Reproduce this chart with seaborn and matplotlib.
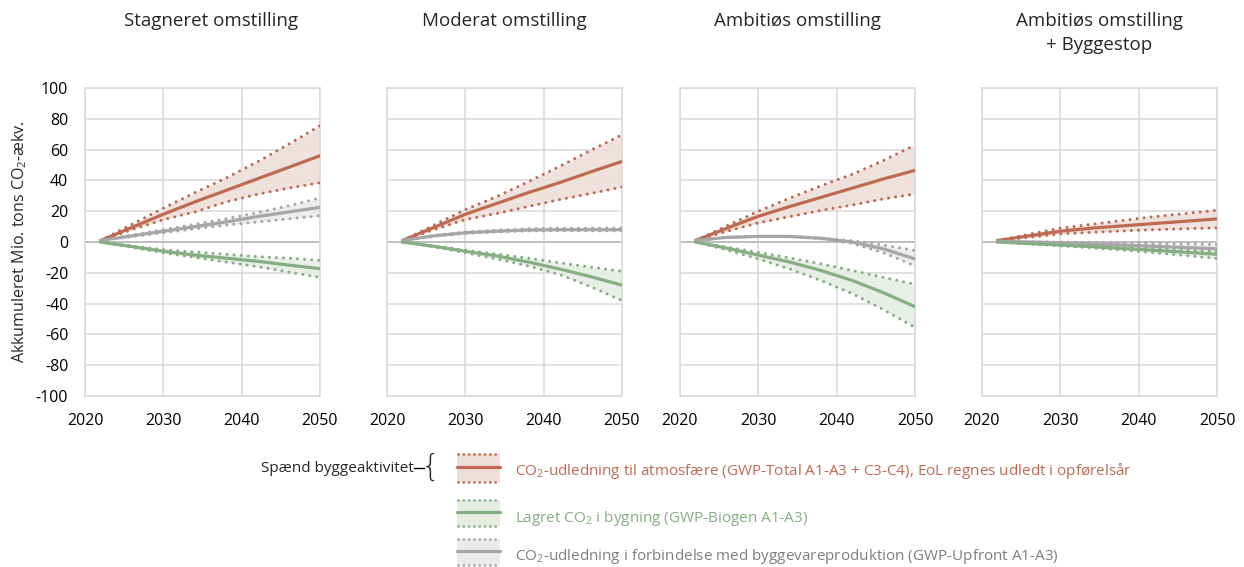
import matplotlib
matplotlib.use("Agg")
import matplotlib.pyplot as plt
import seaborn as sns
import pandas as pd
from matplotlib.patches import Rectangle

# ---- data: cumulative Mio. tons CO2-eq., one row per scenario ----
years = [2022, 2026, 2030, 2034, 2038, 2042, 2046, 2050]
scenarios = ["Stagneret omstilling", "Moderat omstilling",
             "Ambitiøs omstilling", "Ambitiøs omstilling\n+ Byggestop"]

# GWP-Total A1-A3 + C3-C4 (central, high and low construction activity)
total_mid = [[1, 9.5, 18, 26, 33.5, 41, 48.5, 56],
             [1, 9.5, 18, 25, 32, 38.5, 45.5, 52.3],
             [1, 9, 16.7, 23, 29, 35, 41, 46.5],
             [1, 4, 7, 9, 10.5, 12, 13.5, 15]]
total_hi = [[1, 11.5, 22, 32, 41.5, 52, 63.5, 75.5],
            [1, 11, 21, 29.5, 39, 49, 59.5, 69.6],
            [1, 10.5, 20, 28.5, 36.5, 44, 53, 63],
            [1, 5, 9, 11.5, 14, 16.5, 18.5, 20.6]]
total_lo = [[1, 8, 14.5, 19.5, 26, 31, 35, 38.5],
            [1, 8, 14.6, 18.5, 23, 27.5, 31.5, 35.7],
            [1, 7, 12.4, 16.5, 20.5, 24, 28, 31.2],
            [1, 3, 5.3, 6.3, 7.2, 8, 8.6, 9.2]]

# GWP-Biogen A1-A3 (stored CO2)
biogen_mid = [[0, -3, -6, -8.5, -10.5, -12.5, -15, -17.3],
              [0, -2.8, -6, -9, -13, -17.5, -22.5, -28],
              [0, -4, -8.5, -13, -18.5, -25, -33, -42],
              [0, -1, -2, -3, -4.2, -5.4, -6.7, -8]]
biogen_hi = [[0, -2.5, -5, -6.5, -8, -9.5, -10.5, -12],
             [0, -2.5, -5.3, -7.8, -10.5, -13.5, -16.3, -19],
             [0, -3.3, -6.8, -10.3, -14.2, -18.5, -23, -27.5],
             [0, -0.8, -1.6, -2.4, -3.3, -4.2, -5.1, -6]]
biogen_lo = [[0, -3.5, -7, -10, -13, -16, -19.5, -23],
             [0, -3.2, -7, -11, -15.5, -21, -29, -38],
             [0, -5.2, -11, -17.5, -25, -33.5, -44, -55.5],
             [0, -1.3, -2.5, -3.8, -5.3, -7, -8.8, -10.7]]

# GWP-Upfront A1-A3 (building product manufacturing)
upfront_mid = [[1, 4, 7, 10, 13, 16.5, 19.5, 22.5],
               [1, 4, 6, 7, 7.8, 8, 8, 8],
               [1, 3, 3.6, 3.6, 2.4, 0, -4.5, -11],
               [0.5, 0, -0.5, -1.3, -2, -2.8, -3.6, -4.4]]
upfront_hi = [[1, 4.5, 8, 11.5, 15, 19, 23.5, 28.6],
              [1, 4.3, 6.5, 7.7, 8.6, 9, 9, 9],
              [1, 3, 3.6, 3.6, 2.6, 0.8, -2, -5.5],
              [0.5, 0.2, 0, -0.3, -0.6, -1, -1.3, -1.6]]
upfront_lo = [[1, 3.5, 6, 8.5, 11, 13, 15, 17],
              [1, 3.7, 5.5, 6.5, 7.2, 7.3, 7.3, 7.2],
              [1, 3, 3.6, 3.5, 2.2, -1, -7, -15.5],
              [0.5, -0.3, -1.2, -2.5, -3.7, -4.8, -6, -7]]

x_ticks = [2020, 2030, 2040, 2050]
y_ticks = list(range(-100, 101, 20))

legend_labels = [
    "CO$_2$-udledning til atmosfære (GWP-Total A1-A3 + C3-C4), EoL regnes udledt i opførelsår",
    "Lagret CO$_2$ i bygning (GWP-Biogen A1-A3)",
    "CO$_2$-udledning i forbindelse med byggevareproduktion (GWP-Upfront A1-A3)",
]
range_label = "Spænd byggeaktivitet"
y_label = "Akkumuleret Mio. tons CO$_2$-ækv."

# ---- style ----
RED, RED_FILL = "#BE6A52", "#EEDFDA"
GREEN, GREEN_FILL = "#86AD83", "#E6EEE4"
GREY, GREY_FILL = "#A6A6A6", "#EBEBEB"
GRID = "#D9D9D9"

sns.set_theme(style="white")
plt.rcParams["font.family"] = ["Open Sans", "DejaVu Sans"]
plt.rcParams["mathtext.fontset"] = "custom"
plt.rcParams["mathtext.rm"] = "Open Sans"
plt.rcParams["mathtext.it"] = "Open Sans"
plt.rcParams["axes.unicode_minus"] = False

W, H = 1244, 567
fig = plt.figure(figsize=(W / 100, H / 100), dpi=100)

lefts = [85, 387, 680, 982]
ax_w, ax_top, ax_bot = 235, 88, 396
title_x = [211, None, None, None]

series = [
    (total_mid, total_hi, total_lo, RED, RED_FILL),
    (upfront_mid, upfront_hi, upfront_lo, GREY, GREY_FILL),
    (biogen_mid, biogen_hi, biogen_lo, GREEN, GREEN_FILL),
]
dot_style = (0, (0.01, 2.3))

for i, name in enumerate(scenarios):
    ax = fig.add_axes([lefts[i] / W, 1 - ax_bot / H, ax_w / W, (ax_bot - ax_top) / H])
    ax.set_xlim(2020, 2050)
    ax.set_ylim(-100, 100)
    ax.set_xticks(x_ticks)
    ax.set_yticks(y_ticks)
    ax.grid(True, color=GRID, lw=1.1, zorder=0)
    ax.axhline(0, color="#BFBFBF", lw=1.4, zorder=1)
    for sp in ax.spines.values():
        sp.set_color(GRID)
        sp.set_linewidth(1.1)
    ax.tick_params(length=0, labelsize=11.5, colors="black")
    ax.tick_params(axis="x", pad=12)

    for mid, hi, lo, col, fcol in series:
        df = pd.DataFrame({"year": years, "mid": mid[i], "hi": hi[i], "lo": lo[i]})
        ax.fill_between(df["year"], df["lo"], df["hi"], color=fcol, lw=0, zorder=2, alpha=0.9)
        for c in ("hi", "lo"):
            sns.lineplot(data=df, x="year", y=c, ax=ax, color=col, lw=2.2,
                         linestyle=dot_style, dash_capstyle="round", zorder=3)
        sns.lineplot(data=df, x="year", y="mid", ax=ax, color=col, lw=2.3, zorder=4)
    ax.set_xlabel("")
    if i > 0:
        ax.set_yticklabels([])
        ax.set_ylabel("")
    else:
        ax.tick_params(axis="y", pad=12)
        ax.set_ylabel(y_label, fontsize=11.5, labelpad=5)

    tx = 0.5 if title_x[i] is None else (title_x[i] - lefts[i]) / ax_w
    ax.text(tx, 1 + (ax_top - 12) / (ax_bot - ax_top), name, transform=ax.transAxes,
            ha="center", va="top", fontsize=13.5, linespacing=1.45)

# ---- legend drawn in figure pixel space ----
lg = fig.add_axes([0, 0, 1, 1])
lg.set_xlim(0, W)
lg.set_ylim(H, 0)
lg.axis("off")

rows = [(454, 482, RED, RED_FILL, RED, 471),
        (500, 526, GREEN, GREEN_FILL, GREEN, 519),
        (539, 565, GREY, GREY_FILL, "#7F7F7F", 556)]
sx0, sx1 = 457, 500
for lab, (t, b, col, fcol, tcol, ty) in zip(legend_labels, rows):
    lg.add_patch(Rectangle((sx0, t), sx1 - sx0, b - t, color=fcol, lw=0))
    for yy in (t, b):
        lg.plot([sx0 + 1, sx1 - 1], [yy, yy], color=col, lw=2.0,
                linestyle=(0, (0.01, 1.9)), dash_capstyle="round")
    mid_y = (t + b) / 2 - 1
    lg.plot([sx0, sx1], [mid_y, mid_y], color=col, lw=2.3)
    lg.text(515, ty, lab, color=tcol, fontsize=11, va="center", ha="left")

lg.text(414, 468, range_label, fontsize=11, va="center", ha="right")
lg.plot([414, 424], [468, 468], color="black", lw=1.0)
lg.text(421, 467, "{", fontsize=22, va="center", ha="left", fontweight="light",
        family="DejaVu Sans")

fig.savefig("out.png", dpi=100)
